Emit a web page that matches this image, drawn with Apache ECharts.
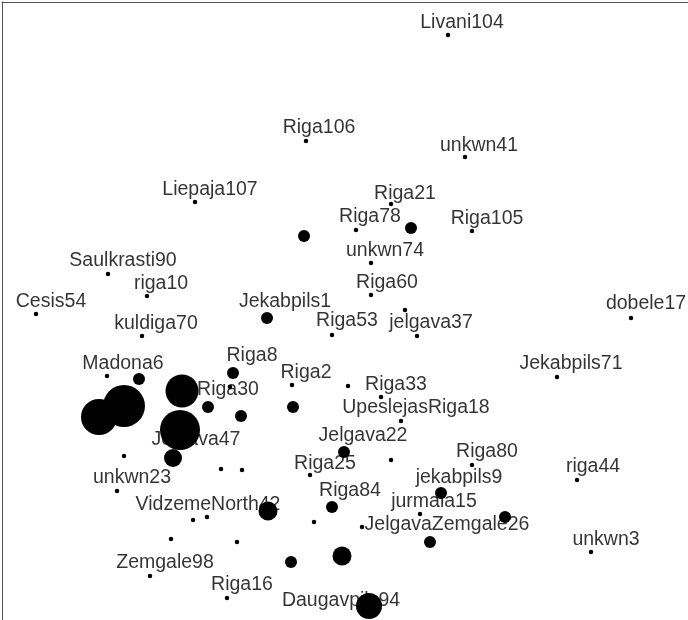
<!DOCTYPE html>
<html>
<head>
<meta charset="utf-8">
<script src="https://cdn.jsdelivr.net/npm/echarts@6/dist/echarts.min.js"></script>
<style>
html,body{margin:0;padding:0;background:#fff;}
#chart{width:688px;height:620px;}
</style>
</head>
<body>
<div id="chart"></div>
<script>
// Point positions (plot units) and bubble diameters
var pointX = [448,306,465,195,391,356,411,472,304,371,108,371,147,36,267,631,405,332,417,142,233,107,139,557,292,348,230,182,124,99,208,293,241,381,401,180,344,124,173,391,472,221,242,310,577,117,441,332,268,420,505,193,207,314,362,430,171,237,591,342,291,150,227,369];
var pointY = [35,141,157,202,204,230,228,231,236,263,274,295,296,314,318,318,310,335,336,336,373,376,379,377,385,386,387,391,406,417,407,407,416,397,421,430,452,456,458,460,465,469,470,475,480,491,493,507,511,514,517,520,517,522,527,542,539,542,552,556,562,576,598,606];
var pointSize = [4.5,4.5,4.5,4.5,4.5,4.5,12,4.5,12,4.5,4.5,4.5,4.5,4.5,12,4.5,4.5,4.5,4.5,4.5,12,4.5,12,4.5,4.5,4.5,4.5,33,42,36,12,12,12,4.5,4.5,40,12,4.5,18,4.5,4.5,4.5,4.5,4.5,4.5,4.5,12,12,19,4.5,12,4.5,4.5,4.5,4.5,12,4.5,4.5,4.5,19,12,4.5,4.5,26];

// Label texts and their positions (plot units)
var labelNames = ["Livani104","Riga106","unkwn41","Liepaja107","Riga21","Riga78","Riga105","unkwn74","Saulkrasti90","Riga60","riga10","Cesis54","Jekabpils1","dobele17","Riga53","jelgava37","kuldiga70","Riga8","Madona6","Jekabpils71","Riga2","Riga33","Riga30","UpeslejasRiga18","Jelgava47","Jelgava22","Riga80","Riga25","riga44","jekabpils9","unkwn23","Riga84","jurmala15","VidzemeNorth42","JelgavaZemgale26","unkwn3","Zemgale98","Riga16","Daugavpils94"];
var labelX = [462,319,479,210,405,370,487,385,123,387,161,51,285,646,347,431,156,252,123,571,306,396,228,416,196,363,487,325,593,459,132,350,434,208,447,606,165,242,341];
var labelY = [21,126,144,188,192,215,217,249,259,281,282,300,300,302,319,321,322,354,362,362,371,383,388,406,438,434,450,462,465,476,476,489,500,503,523,538,561,583,599];

var points = pointX.map(function (x, i) { return [x, pointY[i], pointSize[i]]; });
var labels = labelNames.map(function (n, i) { return { name: n, value: [labelX[i], labelY[i]] }; });

var chart = echarts.init(document.getElementById('chart'), null, { renderer: 'canvas' });
chart.setOption({
  animation: false,
  backgroundColor: '#ffffff',
  grid: { left: 2, top: 2, right: 0, bottom: 0, show: false, outerBoundsMode: 'none', containLabel: false },
  xAxis: {
    type: 'value', min: 2, max: 688, position: 'top',
    axisLine: { show: true, onZero: false, lineStyle: { color: '#555', width: 1 } },
    axisTick: { show: false }, axisLabel: { show: false }, splitLine: { show: false }
  },
  yAxis: {
    type: 'value', min: 2, max: 620, inverse: true, position: 'left',
    axisLine: { show: true, onZero: false, lineStyle: { color: '#555', width: 1 } },
    axisTick: { show: false }, axisLabel: { show: false }, splitLine: { show: false }
  },
  series: [
    {
      type: 'scatter',
      z: 1,
      silent: true,
      symbolSize: 0.1,
      itemStyle: { color: 'rgba(0,0,0,0)' },
      data: labels,
      label: {
        show: true,
        position: 'inside',
        offset: [0, 1.5],
        formatter: function (p) { return p.name; },
        fontFamily: '"Liberation Sans", Arial, sans-serif',
        fontSize: 19.5,
        color: '#000000',
        align: 'center',
        verticalAlign: 'middle'
      }
    },
    {
      type: 'scatter',
      z: 5,
      silent: true,
      data: points,
      symbol: 'circle',
      symbolSize: function (v) { return v[2]; },
      itemStyle: { color: '#000000', opacity: 1 }
    }
  ]
});
</script>
</body>
</html>
